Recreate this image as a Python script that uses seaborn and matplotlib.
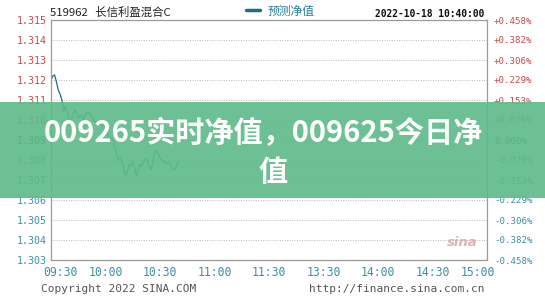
import matplotlib
matplotlib.use("Agg")
import matplotlib.pyplot as plt
import seaborn as sns
import pandas as pd
from matplotlib.patches import Rectangle

# ---- data ----
minutes = list(range(0, 71))  # minutes since 09:30
nav = [1.3120, 1.3122, 1.31225, 1.3119, 1.3115, 1.3113, 1.3110, 1.3104, 1.3107, 1.3104,
       1.3098, 1.3100, 1.3102, 1.3105, 1.3104, 1.3101, 1.3102, 1.3102, 1.3100, 1.3103,
       1.3104, 1.3104, 1.3102, 1.3101, 1.3099, 1.3099, 1.3098, 1.3099, 1.3097, 1.3098,
       1.3096, 1.3094, 1.3092, 1.3091, 1.3090, 1.3087, 1.3083, 1.3080, 1.3081, 1.3079,
       1.3076, 1.3072, 1.3074, 1.3078, 1.3077, 1.3079, 1.3076, 1.3072, 1.3075, 1.3078,
       1.3077, 1.3079, 1.3081, 1.3080, 1.3077, 1.3075, 1.3079, 1.3083, 1.3085, 1.3083,
       1.3081, 1.3080, 1.3079, 1.3079, 1.3078, 1.3079, 1.3077, 1.3075, 1.3075, 1.3077,
       1.3079]
y_ticks = [1.303, 1.304, 1.305, 1.306, 1.307, 1.308, 1.309, 1.310, 1.311, 1.312, 1.313, 1.314, 1.315]
y_labels = ["1.303", "1.304", "1.305", "1.306", "1.307", "1.308", "1.309", "1.310", "1.311",
            "1.312", "1.313", "1.314", "1.315"]
pct_labels = ["-0.458%", "-0.382%", "-0.306%", "-0.229%", "-0.153%", "-0.076%", "0.000%",
              "+0.076%", "+0.153%", "+0.229%", "+0.306%", "+0.382%", "+0.458%"]
x_grid = [30, 60, 90, 120, 150, 180, 210]
x_label_pos = [5, 30, 60, 90, 120, 150, 180, 210, 235]
x_labels = ["09:30", "10:00", "10:30", "11:00", "11:30", "13:30", "14:00", "14:30", "15:00"]
prev_close = 1.309

fund_title = "519962   长信利盈混合C"
legend_label = "预测净值"
stamp = "2022-10-18 10:40:00"
overlay_l1 = "009265实时净值，009625今日净"
overlay_l2 = "值"

df = pd.DataFrame({"minute": minutes, "nav": nav})

sns.set_theme(style="white")
plt.rcParams["font.family"] = ["DejaVu Sans Mono", "Noto Sans CJK SC", "DejaVu Sans"]

RED = "#c8484a"
TEAL = "#3f8ea6"
LINE = "#1f6e80"

fig = plt.figure(figsize=(5.45, 3.0), dpi=100)
ax = fig.add_axes([51/545, 1-260/300, 436/545, 240/300])

sns.lineplot(data=df, x="minute", y="nav", ax=ax, color=LINE, linewidth=0.9, legend=False)

ax.set_xlim(0, 240)
ax.set_ylim(1.303, 1.315)
ax.set_xlabel("")
ax.set_ylabel("")

ax.set_xticks(x_label_pos)
ax.set_xticklabels(x_labels)
ax.set_xticks(x_grid, minor=True)
ax.set_yticks(y_ticks)
ax.set_yticklabels(y_labels)
ax.tick_params(axis="both", which="both", length=0)
ax.tick_params(axis="x", pad=4, labelsize=8.3, labelcolor=TEAL)
ax.tick_params(axis="y", pad=3, labelsize=7.2)
ax.grid(False)
ax.grid(True, which="minor", axis="x", linestyle=(0, (1, 1.5)), color="#b8b8b8", linewidth=0.7)
ax.grid(True, which="major", axis="y", linestyle=(0, (1, 1.5)), color="#b8b8b8", linewidth=0.7)
for s in ax.spines.values():
    s.set_color("#9a9a9a")
    s.set_linewidth(0.9)

for lab, v in zip(ax.get_yticklabels(), y_ticks):
    lab.set_color(RED if v > prev_close + 1e-9 else ("#333333" if abs(v - prev_close) < 1e-9 else TEAL))

ax2 = ax.twinx()
ax2.set_ylim(1.303, 1.315)
ax2.set_yticks(y_ticks)
ax2.set_yticklabels(pct_labels)
ax2.tick_params(axis="y", length=0, pad=5, labelsize=6.6)
ax2.grid(False)
for s in ax2.spines.values():
    s.set_visible(False)
for lab, v in zip(ax2.get_yticklabels(), y_ticks):
    lab.set_color(RED if v > prev_close + 1e-9 else ("#333333" if abs(v - prev_close) < 1e-9 else TEAL))

# header texts
fig.text(50/545, 1-12/300, fund_title, fontsize=8.2, color="#222222", va="center", ha="left",
         family=["Noto Sans CJK SC", "DejaVu Sans"])
ax.plot([], [], color=LINE, linewidth=2.5, label=legend_label)
leg = fig.legend(loc="center left", bbox_to_anchor=(246/545, 1-11/300), frameon=False,
                 handlelength=1.2, handletextpad=0.6, borderaxespad=0, borderpad=0,
                 prop={"family": ["Noto Sans CJK SC"], "size": 8.5})
for t in leg.get_texts():
    t.set_color("#2a7f9a")
fig.text(484/545, 1-14/300, stamp, fontsize=6.9, color="#111111", ha="right", va="center",
         fontweight="bold")

# footer
fig.text(41/545, 1-289/300, "Copyright 2022 SINA.COM", fontsize=8, color="#555555", ha="left", va="center")
fig.text(485/545, 1-289/300, "http://finance.sina.com.cn", fontsize=8, color="#555555", ha="right", va="center")

# sina watermark
ax.text(0.943, 0.075, "sina", transform=ax.transAxes, fontsize=9.5, fontweight="bold", style="italic",
        color="#d7aaaa", ha="center", va="center", family="DejaVu Sans", alpha=0.9)

# overlay banner
fig.patches.append(Rectangle((0, 1-198/300), 1, 96/300, transform=fig.transFigure,
                             facecolor="#5fbb8a", alpha=0.92, edgecolor="none", zorder=5))
fig.text(0.483, 1-133/300, overlay_l1, fontsize=21, fontweight="heavy", color="white", ha="center",
         va="center", family=["Noto Sans CJK SC"], zorder=6)
fig.text(0.5, 1-172/300, overlay_l2, fontsize=21, fontweight="heavy", color="white", ha="center",
         va="center", family=["Noto Sans CJK SC"], zorder=6)

fig.savefig("out.png", dpi=100)
